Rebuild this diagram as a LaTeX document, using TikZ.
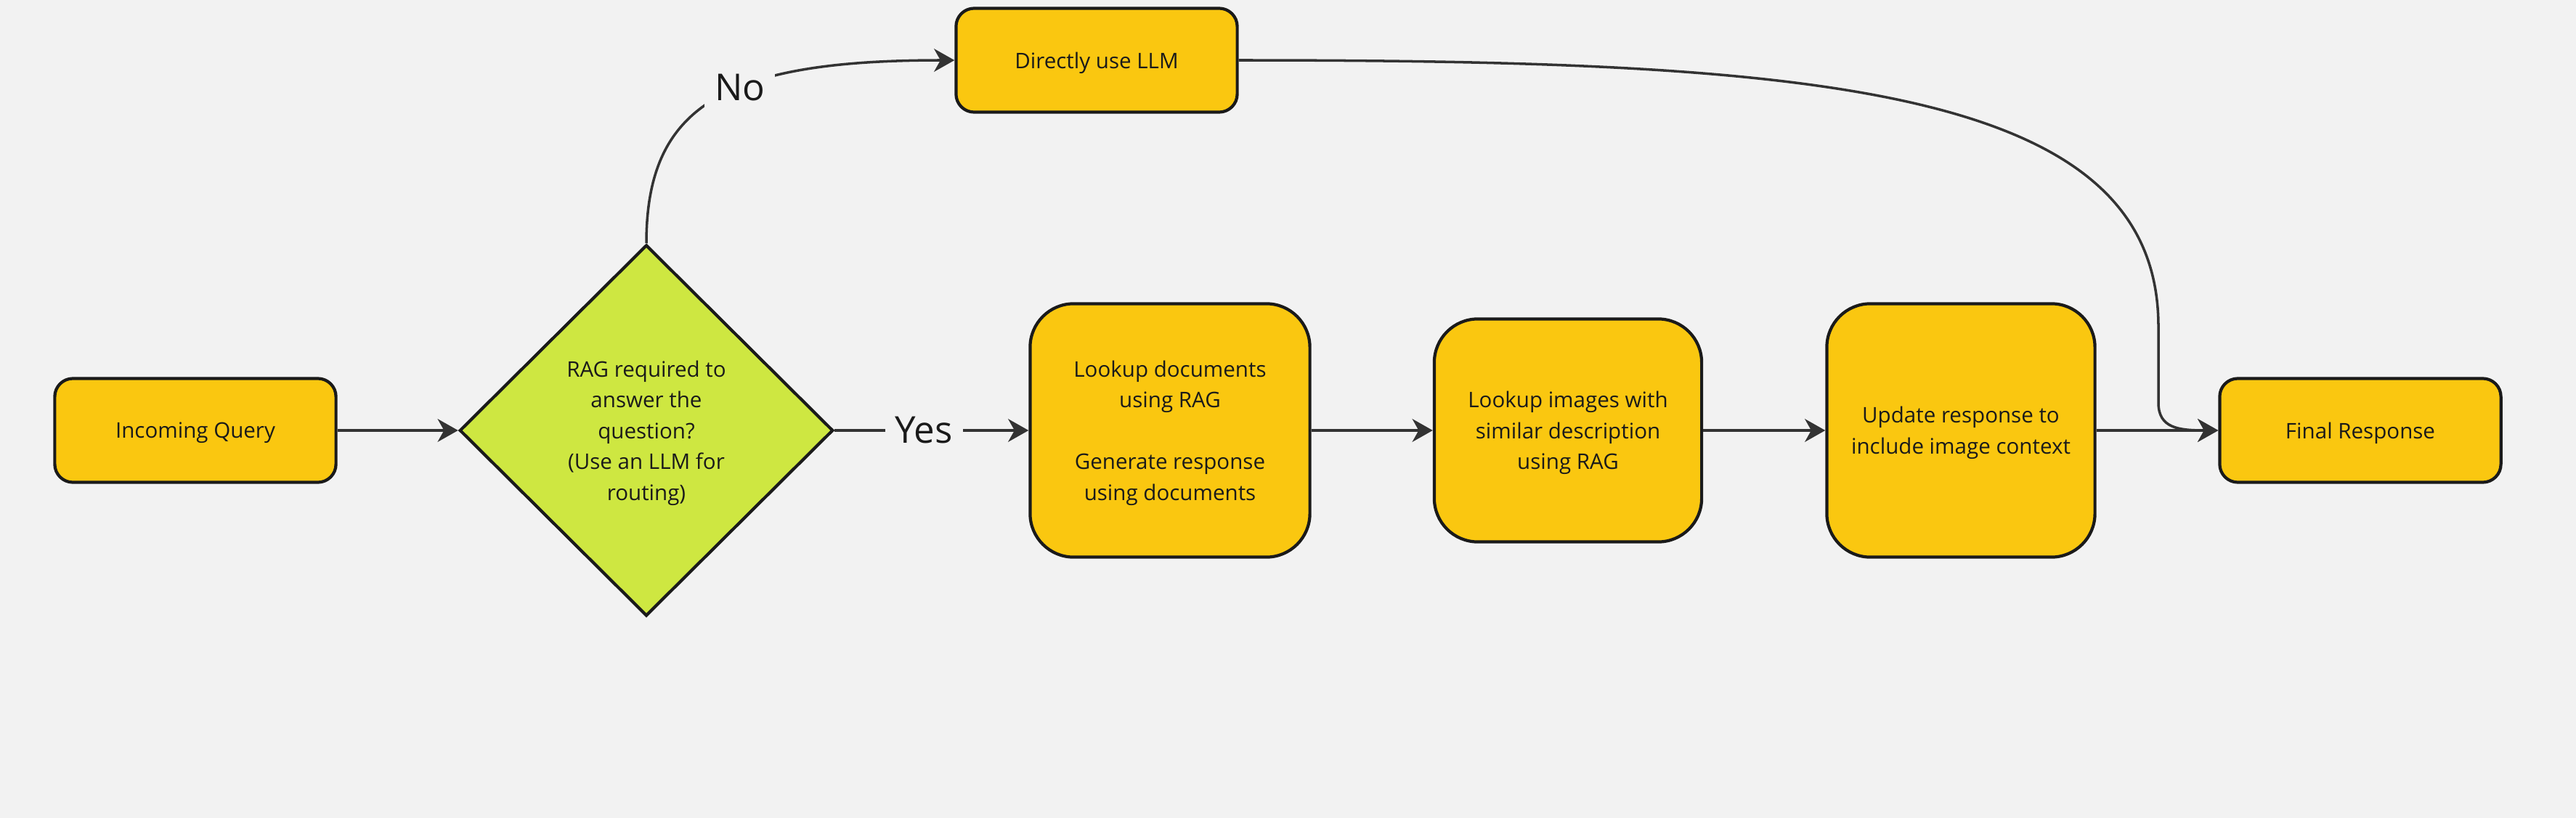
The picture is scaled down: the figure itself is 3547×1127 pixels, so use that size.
\documentclass[tikz,border=0pt]{standalone}
\usepackage{fontspec}
\setmainfont{Open Sans}
\usetikzlibrary{shapes.geometric,arrows.meta}
\definecolor{bg}{HTML}{F2F2F2}
\definecolor{myyellow}{HTML}{FAC710}
\definecolor{mylime}{HTML}{CEE741}
\definecolor{edgec}{HTML}{1A1A1A}
\definecolor{linec}{HTML}{333333}
\begin{document}
\begin{tikzpicture}[x=0.01cm,y=-0.01cm,
  box/.style={draw=edgec, fill=myyellow, line width=1.2pt, align=center,
    font=\fontsize{8.4}{12.1}\selectfont, text=edgec, inner sep=0pt, text depth=0pt},
  smallbox/.style={box, rounded corners=0.25cm, minimum width=3.87cm, minimum height=1.43cm},
  bigbox/.style={box, rounded corners=0.6cm},
  decision/.style={diamond, draw=edgec, fill=mylime, line width=1.2pt, align=center,
    font=\fontsize{8.4}{12.1}\selectfont, text=edgec, minimum width=5.14cm,
    minimum height=5.11cm, inner sep=0pt, text depth=0pt},
  conn/.style={draw=linec, line width=1pt, -{Stealth[length=8pt,width=9pt,inset=2.5pt]}},
  lbl/.style={fill=bg, font=\fontsize{14.5}{17}\selectfont, text=edgec, inner sep=4pt}
]
\fill[bg] (0,0) rectangle (3547,1127);
\useasboundingbox (0,0) rectangle (3547,1127);

\node[smallbox] (inq) at (269,593) {Incoming Query};
\node[decision] (dec) at (890,593) {RAG required to\\answer the\\question?\\(Use an LLM for\\routing)};
\node[smallbox] (direct) at (1510,83) {Directly use LLM};
\node[bigbox, minimum width=3.85cm, minimum height=3.49cm] (docs) at (1611,593)
  {Lookup documents\\using RAG\\[12.1pt]Generate response\\using documents};
\node[bigbox, minimum width=3.68cm, minimum height=3.07cm] (imgs) at (2159,593)
  {Lookup images with\\similar description\\using RAG};
\node[bigbox, minimum width=3.69cm, minimum height=3.49cm] (upd) at (2700,593)
  {Update response to\\include image context};
\node[smallbox] (final) at (3250,593) {Final Response};

\draw[conn] (inq.east) -- (dec.west);
\draw[conn] (dec.east) -- node[lbl, pos=0.46] (yes) {Yes} (docs.west);
\draw[conn] (docs.east) -- (imgs.west);
\draw[conn] (imgs.east) -- (upd.west);
\draw[conn] (upd.east) -- (final.west);
\draw[conn] (dec.north) .. controls +(0,-190) and +(-316,0) .. node[lbl, pos=0.58] (no) {No} (direct.west);
\draw[conn] (direct.east) .. controls (2503,83) and (2972,120) .. (2972,450)
  -- (2972,555) .. controls (2972,590) and (3000,593) .. (final.west);
\end{tikzpicture}
\end{document}
